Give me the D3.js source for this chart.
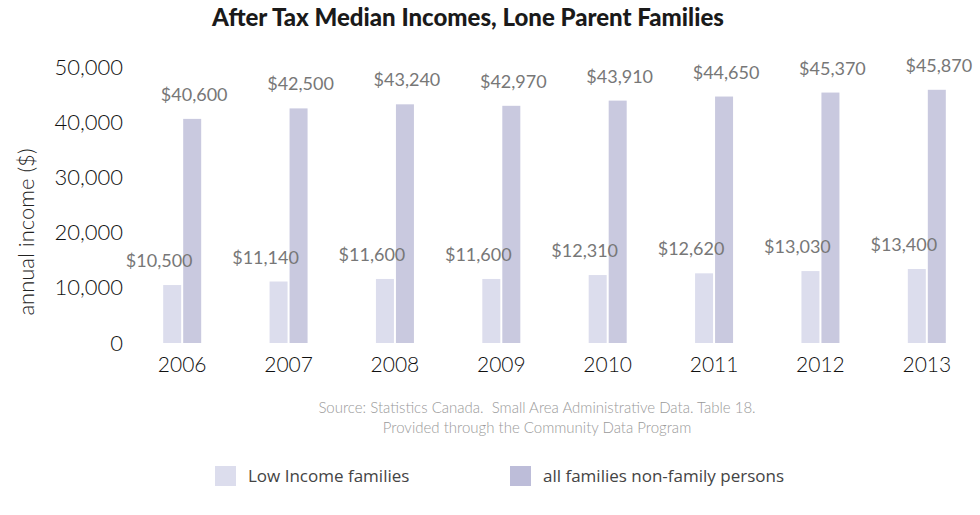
<!DOCTYPE html>
<html>
<head>
<meta charset="utf-8">
<script src="https://cdn.jsdelivr.net/npm/d3@7"></script>
<style>
  body { margin: 0; background: #fff; }
  svg { display: block; font-family: Lato, "Open Sans", sans-serif; }
</style>
</head>
<body>
<svg id="chart" width="980" height="515"></svg>
<script>
const years = ['2006', '2007', '2008', '2009', '2010', '2011', '2012', '2013'];
const lowIncome = [10500, 11140, 11600, 11600, 12310, 12620, 13030, 13400];
const allFamilies = [40600, 42500, 43240, 42970, 43910, 44650, 45370, 45870];
const yTicks = [0, 10000, 20000, 30000, 40000, 50000];
const seriesNames = ['Low Income families', 'all families non-family persons'];
const barColors = ['#dcdded', '#c9c9df'];
const swatchColors = ['#dcdded', '#bdbdd9'];

const svg = d3.select('#chart');

const x = d3.scaleBand().domain(years).range([129, 980]);
const y = d3.scaleLinear().domain([0, 50000]).range([343, 67]);
const fmt = d3.format(',');
const barW = 18, gap = 2;

// title
svg.append('text')
  .attr('x', 468).attr('y', 26)
  .attr('text-anchor', 'middle')
  .attr('font-size', 24).attr('font-weight', 900)
  .attr('fill', '#1a1a1a')
  .text('After Tax Median Incomes, Lone Parent Families');

// y axis
const yAxis = svg.append('g')
  .attr('transform', 'translate(123,0)')
  .call(d3.axisLeft(y).tickValues(yTicks).tickSize(0).tickPadding(0).tickFormat(fmt));
yAxis.select('.domain').remove();
yAxis.selectAll('text').attr('font-size', 22).attr('font-weight', 300)
  .attr('fill', '#111').attr('font-family', 'Lato');

svg.append('text')
  .attr('transform', 'translate(34,232) rotate(-90)')
  .attr('text-anchor', 'middle')
  .attr('font-size', 22).attr('font-weight', 300).attr('fill', '#222')
  .text('annual income ($)');

// x axis
const xAxis = svg.append('g')
  .attr('transform', `translate(0,${y(0)})`)
  .call(d3.axisBottom(x).tickSize(0).tickPadding(14));
xAxis.select('.domain').remove();
xAxis.selectAll('text').attr('font-size', 21).attr('font-weight', 300)
  .attr('fill', '#111').attr('font-family', 'Lato');

const cx = d => x(d) + x.bandwidth() / 2;

// bars
svg.append('g').selectAll('rect')
  .data(years)
  .join('rect')
  .attr('x', (d) => cx(d) - gap / 2 - barW)
  .attr('y', (d, i) => y(lowIncome[i]))
  .attr('width', barW)
  .attr('height', (d, i) => y(0) - y(lowIncome[i]))
  .attr('fill', barColors[0]);

svg.append('g').selectAll('rect')
  .data(years)
  .join('rect')
  .attr('x', (d) => cx(d) + gap / 2)
  .attr('y', (d, i) => y(allFamilies[i]))
  .attr('width', barW)
  .attr('height', (d, i) => y(0) - y(allFamilies[i]))
  .attr('fill', barColors[1]);

// value labels
svg.append('g').selectAll('text')
  .data(years)
  .join('text')
  .attr('x', d => cx(d) - 23)
  .attr('y', (d, i) => y(lowIncome[i]) - 18)
  .attr('text-anchor', 'middle')
  .attr('font-size', 18).attr('fill', '#777')
  .text((d, i) => '$' + fmt(lowIncome[i]));

svg.append('g').selectAll('text')
  .data(years)
  .join('text')
  .attr('x', d => cx(d) + 12)
  .attr('y', (d, i) => y(allFamilies[i]) - 18)
  .attr('text-anchor', 'middle')
  .attr('font-size', 18).attr('fill', '#777')
  .text((d, i) => '$' + fmt(allFamilies[i]));

// source
const src = svg.append('text')
  .attr('text-anchor', 'middle')
  .attr('font-size', 15).attr('font-weight', 300).attr('fill', '#9a9a9a')
  .style('white-space', 'pre');
src.append('tspan').attr('x', 537).attr('y', 413)
  .text('Source: Statistics Canada.  Small Area Administrative Data. Table 18.');
src.append('tspan').attr('x', 537).attr('y', 433)
  .text('Provided through the Community Data Program');

// legend
const legendX = [215, 510];
const leg = svg.append('g').selectAll('g')
  .data(seriesNames)
  .join('g')
  .attr('transform', (d, i) => `translate(${legendX[i]},466)`);
leg.append('rect')
  .attr('width', 21).attr('height', 20)
  .attr('fill', (d, i) => swatchColors[i]);
leg.append('text')
  .attr('x', 33).attr('y', 16)
  .attr('font-family', '"Open Sans", sans-serif')
  .attr('font-size', 17).attr('fill', '#444')
  .text(d => d);
</script>
</body>
</html>
